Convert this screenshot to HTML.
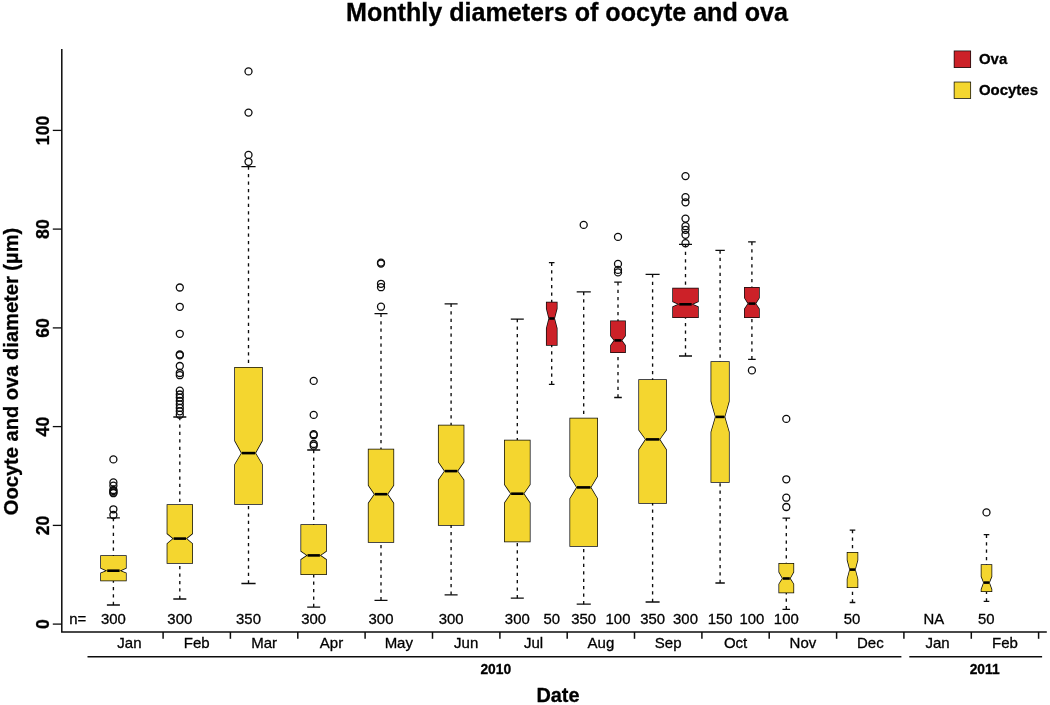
<!DOCTYPE html>
<html lang="en"><head><meta charset="utf-8"><title>Monthly diameters of oocyte and ova</title>
<style>
html,body{margin:0;padding:0;background:#fff;}
body{width:1050px;height:705px;overflow:hidden;font-family:"Liberation Sans",sans-serif;}
svg{display:block;will-change:transform;}
</style></head><body>
<svg width="1050" height="705" viewBox="0 0 1050 705" font-family="Liberation Sans, sans-serif" fill="#000" stroke="#000" stroke-width="0.3" paint-order="stroke">
<rect x="0" y="0" width="1050" height="705" fill="#ffffff" stroke="none"/>
<text x="567.0" y="21.0" font-size="25.1" font-weight="bold" text-anchor="middle">Monthly diameters of oocyte and ova</text>
<text transform="translate(18.0,371.5) rotate(-90)" font-size="20.1" font-weight="bold" text-anchor="middle">Oocyte and ova diameter (µm)</text>
<text x="558.0" y="701.8" font-size="19.9" font-weight="bold" text-anchor="middle">Date</text>
<g stroke="#0c0c0c" stroke-width="1.5" fill="none" stroke-linecap="butt">
<path d="M61.8 49 V632.0 H1046.8"/>
<path d="M52.8 624.1 H61.8" stroke-width="1.3"/>
<path d="M52.8 525.4 H61.8" stroke-width="1.3"/>
<path d="M52.8 426.6 H61.8" stroke-width="1.3"/>
<path d="M52.8 327.9 H61.8" stroke-width="1.3"/>
<path d="M52.8 229.1 H61.8" stroke-width="1.3"/>
<path d="M52.8 130.4 H61.8" stroke-width="1.3"/>
<path d="M163.1 632.0 V638.8"/>
<path d="M230.4 632.0 V638.8"/>
<path d="M297.8 632.0 V638.8"/>
<path d="M365.1 632.0 V638.8"/>
<path d="M432.5 632.0 V638.8"/>
<path d="M499.9 632.0 V638.8"/>
<path d="M567.2 632.0 V638.8"/>
<path d="M634.5 632.0 V638.8"/>
<path d="M701.9 632.0 V638.8"/>
<path d="M769.2 632.0 V638.8"/>
<path d="M836.6 632.0 V638.8"/>
<path d="M903.9 632.0 V638.8"/>
<path d="M971.3 632.0 V638.8"/>
<path d="M1038.6 632.0 V638.8"/>
<path d="M87.5 656.8 H901.4"/>
<path d="M909.3 656.8 H1042.1"/>
</g>
<text transform="translate(49.0,624.1) rotate(-90)" font-size="17.7" font-weight="bold" text-anchor="middle">0</text>
<text transform="translate(49.0,525.4) rotate(-90)" font-size="17.7" font-weight="bold" text-anchor="middle">20</text>
<text transform="translate(49.0,426.6) rotate(-90)" font-size="17.7" font-weight="bold" text-anchor="middle">40</text>
<text transform="translate(49.0,327.9) rotate(-90)" font-size="17.7" font-weight="bold" text-anchor="middle">60</text>
<text transform="translate(49.0,229.1) rotate(-90)" font-size="17.7" font-weight="bold" text-anchor="middle">80</text>
<text transform="translate(49.0,130.4) rotate(-90)" font-size="17.7" font-weight="bold" text-anchor="middle">100</text>
<text x="129.4" y="647.6" font-size="15.0" text-anchor="middle">Jan</text>
<text x="196.8" y="647.6" font-size="15.0" text-anchor="middle">Feb</text>
<text x="264.1" y="647.6" font-size="15.0" text-anchor="middle">Mar</text>
<text x="331.5" y="647.6" font-size="15.0" text-anchor="middle">Apr</text>
<text x="398.8" y="647.6" font-size="15.0" text-anchor="middle">May</text>
<text x="466.2" y="647.6" font-size="15.0" text-anchor="middle">Jun</text>
<text x="533.5" y="647.6" font-size="15.0" text-anchor="middle">Jul</text>
<text x="600.9" y="647.6" font-size="15.0" text-anchor="middle">Aug</text>
<text x="668.2" y="647.6" font-size="15.0" text-anchor="middle">Sep</text>
<text x="735.6" y="647.6" font-size="15.0" text-anchor="middle">Oct</text>
<text x="802.9" y="647.6" font-size="15.0" text-anchor="middle">Nov</text>
<text x="870.3" y="647.6" font-size="15.0" text-anchor="middle">Dec</text>
<text x="937.6" y="647.6" font-size="15.0" text-anchor="middle">Jan</text>
<text x="1005.0" y="647.6" font-size="15.0" text-anchor="middle">Feb</text>
<text x="495.8" y="673.5" font-size="13.8" font-weight="bold" text-anchor="middle">2010</text>
<text x="984.6" y="673.5" font-size="13.8" font-weight="bold" text-anchor="middle">2011</text>
<text x="69.3" y="623.7" font-size="14.9">n=</text>
<text x="113.4" y="623.7" font-size="14.9" text-anchor="middle">300</text>
<text x="179.8" y="623.7" font-size="14.9" text-anchor="middle">300</text>
<text x="248.5" y="623.7" font-size="14.9" text-anchor="middle">350</text>
<text x="313.7" y="623.7" font-size="14.9" text-anchor="middle">300</text>
<text x="381.0" y="623.7" font-size="14.9" text-anchor="middle">300</text>
<text x="451.1" y="623.7" font-size="14.9" text-anchor="middle">300</text>
<text x="517.3" y="623.7" font-size="14.9" text-anchor="middle">300</text>
<text x="551.7" y="623.7" font-size="14.9" text-anchor="middle">50</text>
<text x="583.7" y="623.7" font-size="14.9" text-anchor="middle">350</text>
<text x="618.0" y="623.7" font-size="14.9" text-anchor="middle">100</text>
<text x="652.6" y="623.7" font-size="14.9" text-anchor="middle">350</text>
<text x="685.5" y="623.7" font-size="14.9" text-anchor="middle">300</text>
<text x="720.1" y="623.7" font-size="14.9" text-anchor="middle">150</text>
<text x="751.9" y="623.7" font-size="14.9" text-anchor="middle">100</text>
<text x="786.3" y="623.7" font-size="14.9" text-anchor="middle">100</text>
<text x="852.0" y="623.7" font-size="14.9" text-anchor="middle">50</text>
<text x="933.8" y="623.7" font-size="14.9" text-anchor="middle">NA</text>
<text x="986.3" y="623.7" font-size="14.9" text-anchor="middle">50</text>
<g stroke="#0c0c0c" fill="none">
<path d="M113.4 517.9 V555.9 M113.4 605.0 V580.5" stroke-width="1.35" stroke-dasharray="3.25 4.18"/>
<path d="M106.9 517.9 H119.9 M106.9 605.0 H119.9" stroke-width="1.3"/>
</g>
<path d="M101.0 555.9 H125.9 V568.0 L119.6 570.7 L125.9 573.3 V580.5 H101.0 V573.3 L107.2 570.7 L101.0 568.0 Z" fill="#F4D62F" stroke="#0c0c0c" stroke-width="1.5" stroke-linejoin="miter"/>
<path d="M107.2 570.7 H119.6" stroke="#000" stroke-width="2.6"/>
<circle cx="113.4" cy="459.4" r="3.5" fill="none" stroke="#0c0c0c" stroke-width="1.3"/>
<circle cx="113.4" cy="482.4" r="3.5" fill="none" stroke="#0c0c0c" stroke-width="1.3"/>
<circle cx="113.4" cy="485.7" r="3.5" fill="none" stroke="#0c0c0c" stroke-width="1.3"/>
<circle cx="113.4" cy="490.0" r="3.5" fill="none" stroke="#0c0c0c" stroke-width="1.3"/>
<circle cx="113.4" cy="491.0" r="3.5" fill="none" stroke="#0c0c0c" stroke-width="1.3"/>
<circle cx="113.4" cy="492.4" r="3.5" fill="none" stroke="#0c0c0c" stroke-width="1.3"/>
<circle cx="113.4" cy="493.2" r="3.5" fill="none" stroke="#0c0c0c" stroke-width="1.3"/>
<circle cx="113.4" cy="509.3" r="3.5" fill="none" stroke="#0c0c0c" stroke-width="1.3"/>
<circle cx="113.4" cy="515.0" r="3.5" fill="none" stroke="#0c0c0c" stroke-width="1.3"/>
<g stroke="#0c0c0c" fill="none">
<path d="M179.8 417.0 V504.9 M179.8 599.0 V563.0" stroke-width="1.35" stroke-dasharray="3.25 4.18"/>
<path d="M173.3 417.0 H186.3 M173.3 599.0 H186.3" stroke-width="1.3"/>
</g>
<path d="M167.4 504.9 H192.2 V533.6 L186.0 538.6 L192.2 543.8 V563.0 H167.4 V543.8 L173.6 538.6 L167.4 533.6 Z" fill="#F4D62F" stroke="#0c0c0c" stroke-width="1.5" stroke-linejoin="miter"/>
<path d="M173.6 538.6 H186.0" stroke="#000" stroke-width="2.6"/>
<circle cx="179.8" cy="287.5" r="3.5" fill="none" stroke="#0c0c0c" stroke-width="1.3"/>
<circle cx="179.8" cy="306.8" r="3.5" fill="none" stroke="#0c0c0c" stroke-width="1.3"/>
<circle cx="179.8" cy="333.8" r="3.5" fill="none" stroke="#0c0c0c" stroke-width="1.3"/>
<circle cx="179.8" cy="354.5" r="3.5" fill="none" stroke="#0c0c0c" stroke-width="1.3"/>
<circle cx="179.8" cy="355.3" r="3.5" fill="none" stroke="#0c0c0c" stroke-width="1.3"/>
<circle cx="179.8" cy="366.0" r="3.5" fill="none" stroke="#0c0c0c" stroke-width="1.3"/>
<circle cx="179.8" cy="373.0" r="3.5" fill="none" stroke="#0c0c0c" stroke-width="1.3"/>
<circle cx="179.8" cy="375.2" r="3.5" fill="none" stroke="#0c0c0c" stroke-width="1.3"/>
<circle cx="179.8" cy="390.7" r="3.5" fill="none" stroke="#0c0c0c" stroke-width="1.3"/>
<circle cx="179.8" cy="394.5" r="3.5" fill="none" stroke="#0c0c0c" stroke-width="1.3"/>
<circle cx="179.8" cy="397.6" r="3.5" fill="none" stroke="#0c0c0c" stroke-width="1.3"/>
<circle cx="179.8" cy="401.0" r="3.5" fill="none" stroke="#0c0c0c" stroke-width="1.3"/>
<circle cx="179.8" cy="404.4" r="3.5" fill="none" stroke="#0c0c0c" stroke-width="1.3"/>
<circle cx="179.8" cy="407.9" r="3.5" fill="none" stroke="#0c0c0c" stroke-width="1.3"/>
<circle cx="179.8" cy="411.3" r="3.5" fill="none" stroke="#0c0c0c" stroke-width="1.3"/>
<circle cx="179.8" cy="414.7" r="3.5" fill="none" stroke="#0c0c0c" stroke-width="1.3"/>
<g stroke="#0c0c0c" fill="none">
<path d="M248.5 166.6 V367.8 M248.5 583.5 V504.0" stroke-width="1.35" stroke-dasharray="3.25 4.18"/>
<path d="M241.4 166.6 H255.6 M241.4 583.5 H255.6" stroke-width="1.3"/>
</g>
<path d="M235.0 367.8 H262.0 V440.8 L255.2 453.1 L262.0 464.6 V504.0 H235.0 V464.6 L241.8 453.1 L235.0 440.8 Z" fill="#F4D62F" stroke="#0c0c0c" stroke-width="1.5" stroke-linejoin="miter"/>
<path d="M241.8 453.1 H255.2" stroke="#000" stroke-width="2.6"/>
<circle cx="248.5" cy="71.4" r="3.5" fill="none" stroke="#0c0c0c" stroke-width="1.3"/>
<circle cx="248.5" cy="112.6" r="3.5" fill="none" stroke="#0c0c0c" stroke-width="1.3"/>
<circle cx="248.5" cy="154.9" r="3.5" fill="none" stroke="#0c0c0c" stroke-width="1.3"/>
<circle cx="248.5" cy="161.8" r="3.5" fill="none" stroke="#0c0c0c" stroke-width="1.3"/>
<g stroke="#0c0c0c" fill="none">
<path d="M313.7 450.0 V524.9 M313.7 607.1 V574.3" stroke-width="1.35" stroke-dasharray="3.25 4.18"/>
<path d="M307.2 450.0 H320.2 M307.2 607.1 H320.2" stroke-width="1.3"/>
</g>
<path d="M301.2 524.9 H326.1 V551.1 L319.9 555.4 L326.1 559.7 V574.3 H301.2 V559.7 L307.5 555.4 L301.2 551.1 Z" fill="#F4D62F" stroke="#0c0c0c" stroke-width="1.5" stroke-linejoin="miter"/>
<path d="M307.5 555.4 H319.9" stroke="#000" stroke-width="2.6"/>
<circle cx="313.7" cy="380.9" r="3.5" fill="none" stroke="#0c0c0c" stroke-width="1.3"/>
<circle cx="313.7" cy="414.9" r="3.5" fill="none" stroke="#0c0c0c" stroke-width="1.3"/>
<circle cx="313.7" cy="434.2" r="3.5" fill="none" stroke="#0c0c0c" stroke-width="1.3"/>
<circle cx="313.7" cy="435.2" r="3.5" fill="none" stroke="#0c0c0c" stroke-width="1.3"/>
<circle cx="313.7" cy="444.0" r="3.5" fill="none" stroke="#0c0c0c" stroke-width="1.3"/>
<circle cx="313.7" cy="445.7" r="3.5" fill="none" stroke="#0c0c0c" stroke-width="1.3"/>
<g stroke="#0c0c0c" fill="none">
<path d="M381.0 313.7 V449.5 M381.0 600.3 V541.9" stroke-width="1.35" stroke-dasharray="3.25 4.18"/>
<path d="M374.5 313.7 H387.5 M374.5 600.3 H387.5" stroke-width="1.3"/>
</g>
<path d="M368.6 449.5 H393.4 V485.3 L387.2 494.2 L393.4 503.3 V541.9 H368.6 V503.3 L374.8 494.2 L368.6 485.3 Z" fill="#F4D62F" stroke="#0c0c0c" stroke-width="1.5" stroke-linejoin="miter"/>
<path d="M374.8 494.2 H387.2" stroke="#000" stroke-width="2.6"/>
<circle cx="381.0" cy="262.6" r="3.5" fill="none" stroke="#0c0c0c" stroke-width="1.3"/>
<circle cx="381.0" cy="263.6" r="3.5" fill="none" stroke="#0c0c0c" stroke-width="1.3"/>
<circle cx="381.0" cy="283.8" r="3.5" fill="none" stroke="#0c0c0c" stroke-width="1.3"/>
<circle cx="381.0" cy="287.2" r="3.5" fill="none" stroke="#0c0c0c" stroke-width="1.3"/>
<circle cx="381.0" cy="306.7" r="3.5" fill="none" stroke="#0c0c0c" stroke-width="1.3"/>
<g stroke="#0c0c0c" fill="none">
<path d="M451.1 303.8 V425.4 M451.1 594.8 V525.0" stroke-width="1.35" stroke-dasharray="3.25 4.18"/>
<path d="M444.6 303.8 H457.6 M444.6 594.8 H457.6" stroke-width="1.3"/>
</g>
<path d="M438.7 425.4 H463.6 V462.1 L457.3 471.1 L463.6 480.1 V525.0 H438.7 V480.1 L444.9 471.1 L438.7 462.1 Z" fill="#F4D62F" stroke="#0c0c0c" stroke-width="1.5" stroke-linejoin="miter"/>
<path d="M444.9 471.1 H457.3" stroke="#000" stroke-width="2.6"/>
<g stroke="#0c0c0c" fill="none">
<path d="M517.3 319.1 V440.4 M517.3 598.2 V541.4" stroke-width="1.35" stroke-dasharray="3.25 4.18"/>
<path d="M510.8 319.1 H523.8 M510.8 598.2 H523.8" stroke-width="1.3"/>
</g>
<path d="M504.8 440.4 H529.8 V484.4 L523.5 493.7 L529.8 503.0 V541.4 H504.8 V503.0 L511.1 493.7 L504.8 484.4 Z" fill="#F4D62F" stroke="#0c0c0c" stroke-width="1.5" stroke-linejoin="miter"/>
<path d="M511.1 493.7 H523.5" stroke="#000" stroke-width="2.6"/>
<g stroke="#0c0c0c" fill="none">
<path d="M551.7 262.7 V302.6 M551.7 384.3 V345.1" stroke-width="1.35" stroke-dasharray="3.25 4.18"/>
<path d="M548.9 262.7 H554.5 M548.9 384.3 H554.5" stroke-width="1.3"/>
</g>
<path d="M546.7 302.6 H556.8 V308.6 L554.2 318.5 L556.8 328.3 V345.1 H546.7 V328.3 L549.2 318.5 L546.7 308.6 Z" fill="#CC2128" stroke="#0c0c0c" stroke-width="1.5" stroke-linejoin="miter"/>
<path d="M549.2 318.5 H554.2" stroke="#000" stroke-width="2.6"/>
<g stroke="#0c0c0c" fill="none">
<path d="M583.7 291.9 V418.6 M583.7 604.2 V546.0" stroke-width="1.35" stroke-dasharray="3.25 4.18"/>
<path d="M576.7 291.9 H590.8 M576.7 604.2 H590.8" stroke-width="1.3"/>
</g>
<path d="M570.2 418.6 H597.2 V476.3 L590.5 487.4 L597.2 498.6 V546.0 H570.2 V498.6 L577.0 487.4 L570.2 476.3 Z" fill="#F4D62F" stroke="#0c0c0c" stroke-width="1.5" stroke-linejoin="miter"/>
<path d="M577.0 487.4 H590.5" stroke="#000" stroke-width="2.6"/>
<circle cx="583.7" cy="224.9" r="3.5" fill="none" stroke="#0c0c0c" stroke-width="1.3"/>
<g stroke="#0c0c0c" fill="none">
<path d="M618.0 282.2 V321.2 M618.0 397.5 V352.3" stroke-width="1.35" stroke-dasharray="3.25 4.18"/>
<path d="M614.2 282.2 H621.8 M614.2 397.5 H621.8" stroke-width="1.3"/>
</g>
<path d="M610.9 321.2 H625.1 V335.7 L621.5 340.4 L625.1 345.4 V352.3 H610.9 V345.4 L614.5 340.4 L610.9 335.7 Z" fill="#CC2128" stroke="#0c0c0c" stroke-width="1.5" stroke-linejoin="miter"/>
<path d="M614.5 340.4 H621.5" stroke="#000" stroke-width="2.6"/>
<circle cx="618.0" cy="236.9" r="3.5" fill="none" stroke="#0c0c0c" stroke-width="1.3"/>
<circle cx="618.0" cy="263.9" r="3.5" fill="none" stroke="#0c0c0c" stroke-width="1.3"/>
<circle cx="618.0" cy="269.9" r="3.5" fill="none" stroke="#0c0c0c" stroke-width="1.3"/>
<circle cx="618.0" cy="272.4" r="3.5" fill="none" stroke="#0c0c0c" stroke-width="1.3"/>
<g stroke="#0c0c0c" fill="none">
<path d="M652.6 274.3 V379.9 M652.6 602.0 V503.1" stroke-width="1.35" stroke-dasharray="3.25 4.18"/>
<path d="M645.6 274.3 H659.6 M645.6 602.0 H659.6" stroke-width="1.3"/>
</g>
<path d="M639.1 379.9 H666.1 V430.0 L659.4 439.4 L666.1 449.7 V503.1 H639.1 V449.7 L645.9 439.4 L639.1 430.0 Z" fill="#F4D62F" stroke="#0c0c0c" stroke-width="1.5" stroke-linejoin="miter"/>
<path d="M645.9 439.4 H659.4" stroke="#000" stroke-width="2.6"/>
<g stroke="#0c0c0c" fill="none">
<path d="M685.5 244.3 V288.5 M685.5 356.0 V317.3" stroke-width="1.35" stroke-dasharray="3.25 4.18"/>
<path d="M679.0 244.3 H692.0 M679.0 356.0 H692.0" stroke-width="1.3"/>
</g>
<path d="M673.0 288.5 H698.0 V301.4 L691.7 304.3 L698.0 306.9 V317.3 H673.0 V306.9 L679.3 304.3 L673.0 301.4 Z" fill="#CC2128" stroke="#0c0c0c" stroke-width="1.5" stroke-linejoin="miter"/>
<path d="M679.3 304.3 H691.7" stroke="#000" stroke-width="2.6"/>
<circle cx="685.5" cy="176.1" r="3.5" fill="none" stroke="#0c0c0c" stroke-width="1.3"/>
<circle cx="685.5" cy="197.1" r="3.5" fill="none" stroke="#0c0c0c" stroke-width="1.3"/>
<circle cx="685.5" cy="202.3" r="3.5" fill="none" stroke="#0c0c0c" stroke-width="1.3"/>
<circle cx="685.5" cy="218.6" r="3.5" fill="none" stroke="#0c0c0c" stroke-width="1.3"/>
<circle cx="685.5" cy="226.2" r="3.5" fill="none" stroke="#0c0c0c" stroke-width="1.3"/>
<circle cx="685.5" cy="229.8" r="3.5" fill="none" stroke="#0c0c0c" stroke-width="1.3"/>
<circle cx="685.5" cy="234.8" r="3.5" fill="none" stroke="#0c0c0c" stroke-width="1.3"/>
<circle cx="685.5" cy="243.2" r="3.5" fill="none" stroke="#0c0c0c" stroke-width="1.3"/>
<g stroke="#0c0c0c" fill="none">
<path d="M720.1 250.4 V362.0 M720.1 583.0 V482.1" stroke-width="1.35" stroke-dasharray="3.25 4.18"/>
<path d="M715.4 250.4 H724.8 M715.4 583.0 H724.8" stroke-width="1.3"/>
</g>
<path d="M711.3 362.0 H728.9 V401.3 L724.5 416.9 L728.9 432.1 V482.1 H711.3 V432.1 L715.7 416.9 L711.3 401.3 Z" fill="#F4D62F" stroke="#0c0c0c" stroke-width="1.5" stroke-linejoin="miter"/>
<path d="M715.7 416.9 H724.5" stroke="#000" stroke-width="2.6"/>
<g stroke="#0c0c0c" fill="none">
<path d="M751.9 241.9 V287.7 M751.9 359.3 V317.3" stroke-width="1.35" stroke-dasharray="3.25 4.18"/>
<path d="M748.1 241.9 H755.7 M748.1 359.3 H755.7" stroke-width="1.3"/>
</g>
<path d="M744.8 287.7 H759.0 V297.9 L755.4 303.6 L759.0 309.0 V317.3 H744.8 V309.0 L748.4 303.6 L744.8 297.9 Z" fill="#CC2128" stroke="#0c0c0c" stroke-width="1.5" stroke-linejoin="miter"/>
<path d="M748.4 303.6 H755.4" stroke="#000" stroke-width="2.6"/>
<circle cx="751.9" cy="370.4" r="3.5" fill="none" stroke="#0c0c0c" stroke-width="1.3"/>
<g stroke="#0c0c0c" fill="none">
<path d="M786.3 518.1 V563.7 M786.3 609.3 V592.6" stroke-width="1.35" stroke-dasharray="3.25 4.18"/>
<path d="M782.5 518.1 H790.1 M782.5 609.3 H790.1" stroke-width="1.3"/>
</g>
<path d="M779.2 563.7 H793.4 V572.1 L789.8 578.5 L793.4 584.1 V592.6 H779.2 V584.1 L782.8 578.5 L779.2 572.1 Z" fill="#F4D62F" stroke="#0c0c0c" stroke-width="1.5" stroke-linejoin="miter"/>
<path d="M782.8 578.5 H789.8" stroke="#000" stroke-width="2.6"/>
<circle cx="786.3" cy="418.9" r="3.5" fill="none" stroke="#0c0c0c" stroke-width="1.3"/>
<circle cx="786.3" cy="479.3" r="3.5" fill="none" stroke="#0c0c0c" stroke-width="1.3"/>
<circle cx="786.3" cy="497.7" r="3.5" fill="none" stroke="#0c0c0c" stroke-width="1.3"/>
<circle cx="786.3" cy="507.0" r="3.5" fill="none" stroke="#0c0c0c" stroke-width="1.3"/>
<g stroke="#0c0c0c" fill="none">
<path d="M852.5 530.1 V552.7 M852.5 602.5 V587.3" stroke-width="1.35" stroke-dasharray="3.25 4.18"/>
<path d="M849.7 530.1 H855.3 M849.7 602.5 H855.3" stroke-width="1.3"/>
</g>
<path d="M847.5 552.7 H857.5 V560.1 L855.0 569.6 L857.5 579.0 V587.3 H847.5 V579.0 L850.0 569.6 L847.5 560.1 Z" fill="#F4D62F" stroke="#0c0c0c" stroke-width="1.5" stroke-linejoin="miter"/>
<path d="M850.0 569.6 H855.0" stroke="#000" stroke-width="2.6"/>
<g stroke="#0c0c0c" fill="none">
<path d="M986.5 534.7 V564.9 M986.5 601.4 V591.3" stroke-width="1.35" stroke-dasharray="3.25 4.18"/>
<path d="M983.7 534.7 H989.3 M983.7 601.4 H989.3" stroke-width="1.3"/>
</g>
<path d="M981.5 564.9 H991.5 V576.6 L989.0 582.6 L991.5 589.4 V591.3 H981.5 V589.4 L984.0 582.6 L981.5 576.6 Z" fill="#F4D62F" stroke="#0c0c0c" stroke-width="1.5" stroke-linejoin="miter"/>
<path d="M984.0 582.6 H989.0" stroke="#000" stroke-width="2.6"/>
<circle cx="986.5" cy="512.4" r="3.5" fill="none" stroke="#0c0c0c" stroke-width="1.3"/>
<rect x="954.5" y="51.3" width="15.8" height="15.9" fill="#CC2128" stroke="#0c0c0c" stroke-width="1.5"/>
<rect x="954.5" y="82.4" width="15.8" height="15.7" fill="#F4D62F" stroke="#0c0c0c" stroke-width="1.5"/>
<text x="979.0" y="64.3" font-size="14.95" font-weight="bold">Ova</text>
<text x="979.0" y="95.2" font-size="14.95" font-weight="bold">Oocytes</text>
</svg>
</body></html>
